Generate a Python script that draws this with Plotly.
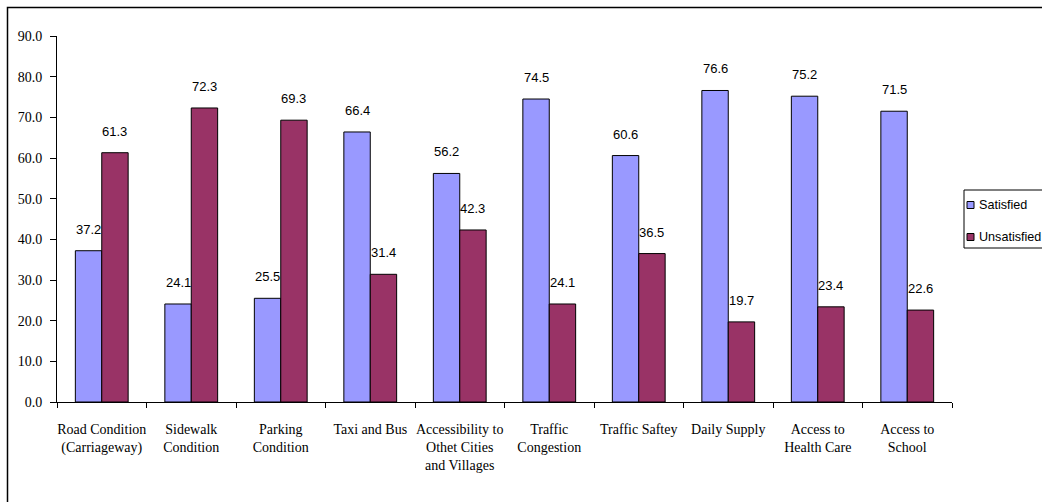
import plotly.graph_objects as go

categories = ["Road Condition<br>(Carriageway)", "Sidewalk<br>Condition", "Parking<br>Condition",
              "Taxi and Bus", "Accessibility to<br>Othet Cities<br>and Villages", "Traffic<br>Congestion",
              "Traffic Saftey", "Daily Supply", "Access to<br>Health Care", "Access to<br>School"]
series_names = ["Satisfied", "Unsatisfied"]
satisfied = [37.2, 24.1, 25.5, 66.4, 56.2, 74.5, 60.6, 76.6, 75.2, 71.5]
unsatisfied = [61.3, 72.3, 69.3, 31.4, 42.3, 24.1, 36.5, 19.7, 23.4, 22.6]
y_ticks = [0, 10, 20, 30, 40, 50, 60, 70, 80, 90]
colors = ["#9999FF", "#993366"]

W, H = 1042, 502
L, R, T, B = 57, 90, 36, 100
pw = W - L - R
ph = H - T - B
bargap = 0.41
bar_w = pw / len(categories) * (1 - bargap) / 2

fig = go.Figure()
for name, vals, col in zip(series_names, [satisfied, unsatisfied], colors):
    fig.add_trace(go.Bar(name=name, x=categories, y=vals,
                         marker=dict(color=col, line=dict(color="black", width=1)),
                         showlegend=False))

label_font = dict(family="Arial, Liberation Sans", size=13, color="black")
for i, vals in enumerate([satisfied, unsatisfied]):
    shift = (-0.5 if i == 0 else 0.5) * bar_w
    for c, v in zip(categories, vals):
        fig.add_annotation(x=c, y=v, text=f"{v:.1f}", showarrow=False,
                           xshift=shift, yshift=12, yanchor="bottom",
                           font=label_font)

def px_x(p):
    return (p - L) / pw

def px_y(p):
    return (H - B - p) / ph

# legend (manual, to match compact Excel style)
legend_font = dict(family="Arial, Liberation Sans", size=12.6, color="black")
fig.add_shape(type="rect", xref="paper", yref="paper",
              x0=px_x(964), x1=px_x(1080), y0=px_y(248), y1=px_y(190),
              line=dict(color="black", width=1), fillcolor="white")
for name, col, yc in zip(series_names, colors, [205, 237]):
    fig.add_shape(type="rect", xref="paper", yref="paper",
                  x0=px_x(967), x1=px_x(974), y0=px_y(yc + 3.5), y1=px_y(yc - 3.5),
                  line=dict(color="black", width=1), fillcolor=col)
    fig.add_annotation(xref="paper", yref="paper", x=px_x(977), y=px_y(yc),
                       xanchor="left", yanchor="middle", text=name, showarrow=False,
                       font=legend_font)

fig.update_layout(
    width=W, height=H,
    margin=dict(l=L, r=R, t=T, b=B, autoexpand=False),
    paper_bgcolor="white", plot_bgcolor="white",
    barmode="group", bargap=bargap, bargroupgap=0,
    showlegend=False,
    font=dict(family="Liberation Serif, Times New Roman", size=14, color="black"),
    xaxis=dict(showline=True, linecolor="black", linewidth=1, ticks="outside",
               tickson="boundaries", ticklen=5, tickcolor="black", tickangle=0,
               ticklabelstandoff=14,
               tickfont=dict(family="Liberation Serif, Times New Roman", size=14, color="black"),
               showgrid=False),
    yaxis=dict(range=[0, 90], tickvals=y_ticks, ticktext=[f"{v:.1f}" for v in y_ticks],
               showline=True, linecolor="black", linewidth=1, ticks="outside", ticklen=6,
               tickcolor="black", showgrid=False, zeroline=False, ticklabelstandoff=5,
               tickfont=dict(family="Liberation Serif, Times New Roman", size=14, color="black")),
)

fig.add_shape(type="rect", xref="paper", yref="paper",
              x0=px_x(7.5), x1=px_x(1070), y0=px_y(530), y1=px_y(7.5),
              line=dict(color="black", width=1.5), fillcolor="rgba(0,0,0,0)", layer="below")

fig.write_html("out.html")
